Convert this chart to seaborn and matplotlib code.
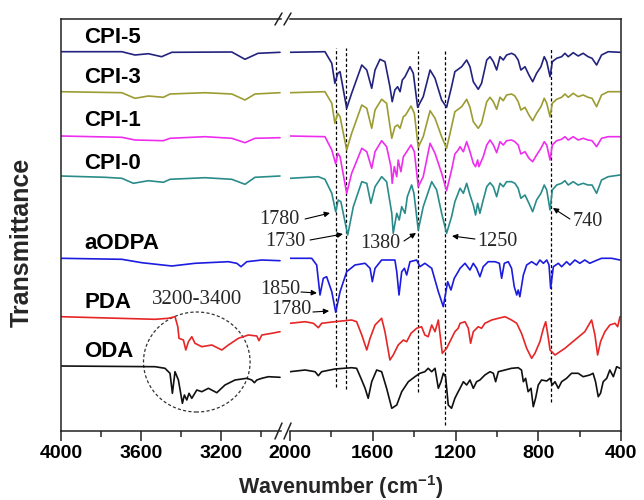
import matplotlib
matplotlib.use("Agg")
import matplotlib.pyplot as plt
import seaborn as sns
import pandas as pd
from matplotlib.patches import Ellipse
from matplotlib.lines import Line2D

# ---------------- data (wavenumber in cm-1, transmittance in a.u., stacked) ----------------
CPI5_HI_WN = [4000, 3696, 3630, 3563, 3497, 3446, 3146, 3080, 3015, 2905]
CPI5_HI_T = [379.3, 379.3, 376, 377.3, 374.3, 378.7, 379, 371.7, 377.7, 378.7]
CPI5_LO_WN = [2000, 1831, 1798, 1783, 1769, 1758, 1726, 1702, 1653, 1629, 1605, 1589, 1565, 1541, 1517, 1506,
              1493, 1480, 1468, 1457, 1444, 1420, 1404, 1383, 1356, 1323, 1299, 1267, 1243, 1219, 1203, 1170,
              1146, 1130, 1114, 1090, 1074, 1049, 1033, 1017, 1001, 985, 969, 953, 929, 913, 897, 884, 864,
              845, 827, 808, 787, 771, 759, 743, 732, 711, 687, 671, 655, 631, 607, 583, 559, 540, 518, 494,
              462, 405]
CPI5_LO_T = [378.7, 379.3, 367.7, 347.7, 357.7, 359.3, 322.7, 337.7, 366, 361, 342.7, 361, 371.7, 369.3, 344.3,
             329.3, 341, 344.3, 339.3, 351, 354.3, 364.3, 357.7, 323.7, 334.3, 361, 352.7, 331, 323.7, 344.3,
             359.3, 364.3, 371, 364.3, 349.3, 341.7, 347.7, 371, 374.3, 369.3, 361, 374.3, 371, 376, 377.7,
             376, 371, 361, 364.3, 356, 349.3, 357.7, 364.3, 374.3, 369.3, 354.3, 369.3, 372.7, 374.3, 377.7,
             374.3, 378.3, 375, 377.7, 374.3, 372.7, 366, 376, 379.3, 378.7]

CPI3_HI_WN = [4000, 3696, 3630, 3563, 3488, 3455, 3280, 3146, 3080, 3030, 2905]
CPI3_HI_T = [339.3, 338.3, 332.7, 335, 333.7, 337, 338.3, 337, 331, 337, 338.3]
CPI3_LO_WN = [2000, 1831, 1798, 1783, 1769, 1758, 1726, 1702, 1653, 1629, 1605, 1589, 1557, 1533, 1508, 1493,
              1480, 1468, 1452, 1441, 1415, 1399, 1380, 1356, 1323, 1299, 1267, 1243, 1219, 1203, 1170, 1146,
              1130, 1114, 1090, 1074, 1049, 1033, 1017, 1001, 985, 969, 953, 929, 913, 897, 884, 864, 845, 827,
              808, 787, 771, 759, 743, 732, 711, 687, 671, 655, 631, 607, 583, 559, 540, 518, 494, 462, 405]
CPI3_LO_T = [338.3, 339.3, 327.7, 307.7, 317.7, 314.3, 281, 297.7, 326, 322.7, 302.7, 321, 331.7, 327.7, 292.7,
             304.3, 306, 302.7, 314.3, 316, 325, 317.7, 283.7, 294.3, 320.3, 312.7, 294.3, 282.7, 304.3, 319.3,
             324.3, 331.7, 323.7, 309.3, 302.7, 307.7, 329.3, 333.7, 329.3, 321.7, 333.7, 330.3, 336, 337, 335,
             329.3, 321, 323.7, 316, 310.3, 317.7, 324.3, 332.7, 327.7, 314.3, 327.7, 331.7, 333.7, 337, 333.7,
             337.7, 334.3, 336, 333.7, 332.7, 324.3, 336, 339.3, 339.3]

CPI1_HI_WN = [4000, 3696, 3630, 3488, 3455, 3280, 3146, 3080, 3030, 2905]
CPI1_HI_T = [295, 293.7, 291, 290.3, 292.7, 294.3, 292.7, 288.3, 292.7, 293.3]
CPI1_LO_WN = [2000, 1831, 1798, 1779, 1769, 1758, 1726, 1702, 1653, 1629, 1605, 1589, 1557, 1533, 1512, 1506,
              1496, 1484, 1477, 1464, 1452, 1441, 1415, 1399, 1380, 1356, 1323, 1299, 1267, 1243, 1219, 1203,
              1187, 1178, 1162, 1146, 1130, 1114, 1103, 1093, 1087, 1066, 1049, 1033, 1017, 1001, 985, 969, 953,
              929, 913, 897, 884, 864, 845, 827, 808, 787, 771, 759, 743, 732, 711, 687, 671, 655, 631, 607, 583,
              559, 540, 518, 494, 462, 405]
CPI1_LO_T = [295, 294.3, 281, 267, 277.7, 274.3, 237.7, 257.7, 282.7, 279.3, 262.7, 279.3, 290.3, 284.3, 264.3,
             247.7, 264.3, 254.3, 271, 259.3, 274.3, 277.7, 286, 279.3, 244.3, 254.3, 287.7, 277.7, 257.7, 240.3,
             261, 277, 281, 284.3, 279.3, 289.3, 279.3, 267.7, 264.3, 271, 264.3, 274.3, 286, 291, 286, 278.3,
             289.3, 286, 290.3, 291, 289.3, 286, 277, 279.3, 272.7, 269.3, 276, 282.7, 289.3, 286, 271, 286,
             290.3, 291.7, 294.3, 291, 294.3, 291, 292.7, 291, 290.3, 284.3, 292.7, 294.3, 294.3]

CPI0_HI_WN = [4000, 3780, 3696, 3638, 3563, 3488, 3455, 3280, 3146, 3080, 3030, 2905]
CPI0_HI_T = [255, 253.7, 252.7, 247.7, 250.3, 248.7, 251.7, 253.3, 251.7, 246.7, 253.7, 255]
CPI0_LO_WN = [2000, 1863, 1831, 1798, 1779, 1767, 1754, 1721, 1694, 1653, 1629, 1609, 1589, 1557, 1533, 1508,
              1501, 1484, 1472, 1460, 1444, 1433, 1412, 1401, 1380, 1356, 1315, 1291, 1267, 1243, 1219, 1203,
              1178, 1162, 1146, 1130, 1114, 1103, 1093, 1082, 1066, 1049, 1033, 1017, 1001, 985, 969, 953, 929,
              913, 897, 884, 864, 845, 827, 808, 787, 771, 759, 743, 732, 711, 687, 671, 655, 631, 607, 583, 559,
              540, 518, 494, 462, 405]
CPI0_LO_T = [252.7, 254.3, 251.7, 237.7, 219.3, 231, 229.3, 196, 224.3, 249.3, 247.7, 227.7, 244.3, 254.3, 249.3,
             217.7, 197.7, 217.7, 211, 224.3, 217.7, 234.3, 246, 237.7, 201, 224.3, 249.3, 241, 217.7, 197.7,
             214.3, 229.3, 242.7, 237.7, 247.7, 236, 226, 216, 227.7, 217.7, 231, 244.3, 248.3, 244.3, 234.3,
             247.7, 244.3, 249.3, 249.3, 247.7, 242.7, 232.7, 236, 227.7, 219.3, 231, 237.7, 246, 241, 221, 241,
             246, 247.7, 250.3, 246, 249.3, 246, 247.7, 246, 246, 237.7, 251, 254.3, 256]

AODPA_HI_WN = [4000, 3696, 3596, 3446, 3330, 3163, 3121, 3100, 3071, 2996, 2905]
AODPA_HI_T = [172.7, 171.7, 168.3, 165, 167.7, 169.3, 167.7, 164.3, 169.3, 171, 170.3]
AODPA_LO_WN = [2000, 1895, 1871, 1855, 1839, 1823, 1798, 1779, 1758, 1726, 1686, 1637, 1613, 1602, 1589, 1557,
               1493, 1484, 1473, 1460, 1447, 1436, 1420, 1388, 1372, 1348, 1315, 1283, 1259, 1238, 1222, 1206,
               1187, 1178, 1154, 1130, 1114, 1098, 1082, 1066, 1042, 1009, 988, 977, 964, 945, 929, 916, 904,
               897, 889, 872, 856, 832, 808, 792, 775, 759, 748, 740, 727, 703, 687, 663, 647, 623, 599, 575,
               551, 526, 494, 445, 405]
AODPA_LO_T = [172.7, 172.7, 166, 136, 152.7, 154.3, 139.3, 118.7, 139.3, 159.3, 166, 167.7, 162.7, 149.3, 162.7,
              171, 171, 159.3, 136, 159.3, 162.7, 156, 169.3, 171, 164.3, 167.7, 162.7, 139.3, 124.3, 149.3, 141,
              152.7, 159.3, 162.7, 167.7, 161, 167.7, 162.7, 154.3, 164.3, 169.3, 169.3, 167.7, 152.7, 167.7,
              169.3, 162.7, 144.3, 136, 141, 134.3, 156, 166, 169.3, 166, 171, 167.7, 171, 166, 142.7, 164.3,
              167.7, 164.3, 169.3, 166, 171, 167.7, 171, 167.7, 170, 172.7, 172.7, 171]

PDA_HI_WN = [4000, 3530, 3463, 3430, 3416, 3410, 3388, 3376, 3363, 3346, 3330, 3296, 3246, 3196, 3163, 3113,
             3063, 3021, 3010, 2996, 2946, 2905]
PDA_HI_T = [114.3, 111.7, 112.7, 114.3, 104.3, 92.7, 91, 81, 89.3, 94.3, 87.7, 84.3, 86, 81, 86, 92.7, 96, 95,
            90.3, 96, 97.7, 99.3]
PDA_LO_WN = [2000, 1927, 1887, 1863, 1847, 1783, 1702, 1678, 1653, 1629, 1613, 1589, 1557, 1541, 1517, 1501,
             1477, 1452, 1436, 1415, 1388, 1364, 1348, 1332, 1315, 1299, 1283, 1264, 1243, 1219, 1203, 1187,
             1178, 1154, 1138, 1127, 1114, 1090, 1074, 1058, 1025, 993, 961, 929, 904, 881, 856, 832, 816, 792,
             775, 764, 751, 743, 719, 671, 623, 575, 542, 526, 513, 499, 478, 454, 429, 416, 405]
PDA_LO_T = [107.7, 109.3, 107.7, 103.3, 107.7, 109.3, 111, 109.3, 96, 81, 92.7, 106, 112.7, 99.3, 71, 76, 86, 91,
            89.3, 97.7, 102.7, 104.3, 96, 94.3, 106, 99.3, 111, 77.7, 82.7, 92.7, 99.3, 102.7, 107.7, 109.3,
            102.7, 87.7, 99.3, 104.3, 102.7, 107.7, 111, 112.7, 114.3, 111, 107.7, 97.7, 82.7, 72.7, 77.7,
            89.3, 102.7, 109.3, 92.7, 81, 76, 82.7, 91, 99.3, 111, 96, 76, 89.3, 99.3, 106, 107.7, 104.3, 114.3]

ODA_HI_WN = [4000, 3530, 3480, 3455, 3443, 3430, 3413, 3393, 3383, 3371, 3360, 3346, 3321, 3296, 3263, 3221,
             3180, 3130, 3071, 3046, 3033, 3021, 2996, 2963, 2905]
ODA_HI_T = [65, 64.3, 62.7, 57.7, 37.7, 59.3, 51, 27.7, 36, 31, 37.7, 32.7, 41, 39.3, 42.7, 38.3, 46, 51, 52.7,
            51, 48.3, 51, 52.7, 54.3, 53.7]
ODA_LO_WN = [2000, 1927, 1879, 1863, 1847, 1783, 1702, 1678, 1657, 1637, 1622, 1605, 1581, 1557, 1533, 1508,
             1484, 1460, 1428, 1396, 1372, 1348, 1332, 1315, 1299, 1283, 1270, 1259, 1248, 1235, 1219, 1203,
             1187, 1178, 1162, 1146, 1130, 1114, 1098, 1082, 1058, 1033, 1017, 1006, 993, 961, 929, 897, 881,
             872, 861, 849, 835, 824, 813, 800, 784, 759, 743, 732, 719, 703, 687, 663, 639, 607, 583, 551, 535,
             523, 510, 499, 486, 469, 454, 437, 421, 405]
ODA_LO_T = [59.3, 61, 59.3, 55.3, 59.3, 62, 63.3, 62.7, 52.7, 42.7, 32.7, 49.3, 61, 59.3, 42.7, 22.7, 26, 39.3,
            49.3, 54.3, 57.7, 59.3, 62.7, 59.3, 62.7, 42.7, 49.3, 57.7, 54.3, 26, 22.7, 32.7, 39.3, 42.7, 49.3,
            46, 51, 42.7, 49.3, 51, 56, 59.3, 57.7, 49.3, 59.3, 61, 62.7, 63.3, 61, 49.3, 52.7, 39.3, 42.7, 24.3,
            32.7, 46, 51, 50, 52.7, 46, 49.3, 42.7, 49.3, 52.7, 57.7, 57.7, 54.3, 56, 57.7, 49.3, 34.3, 37.7,
            49.3, 52.7, 61, 54.3, 64.3, 62.7]

SAMPLES = ["CPI-5", "CPI-3", "CPI-1", "CPI-0", "aODPA", "PDA", "ODA"]
COLORS = ["#23237f", "#9c9c33", "#ee2eee", "#2a8c8a", "#1c1ce0", "#e62626", "#111111"]
LABEL_T = [394, 354, 311, 268, 187.5, 128, 79.5]
MARKED_WN = [1780, 1730, 1380, 1250, 740]
MARKED_TOP = [383, 383, 380, 380, 383]
MARKED_BOTTOM = [44.3, 42, 39.3, 6, 29.3]

HI = {"CPI-5": (CPI5_HI_WN, CPI5_HI_T), "CPI-3": (CPI3_HI_WN, CPI3_HI_T), "CPI-1": (CPI1_HI_WN, CPI1_HI_T),
      "CPI-0": (CPI0_HI_WN, CPI0_HI_T), "aODPA": (AODPA_HI_WN, AODPA_HI_T), "PDA": (PDA_HI_WN, PDA_HI_T),
      "ODA": (ODA_HI_WN, ODA_HI_T)}
LO = {"CPI-5": (CPI5_LO_WN, CPI5_LO_T), "CPI-3": (CPI3_LO_WN, CPI3_LO_T), "CPI-1": (CPI1_LO_WN, CPI1_LO_T),
      "CPI-0": (CPI0_LO_WN, CPI0_LO_T), "aODPA": (AODPA_LO_WN, AODPA_LO_T), "PDA": (PDA_LO_WN, PDA_LO_T),
      "ODA": (ODA_LO_WN, ODA_LO_T)}

rows = []
for s in SAMPLES:
    for region, src in (("hi", HI), ("lo", LO)):
        for w, t in zip(*src[s]):
            rows.append({"sample": s, "region": region, "wn": w, "T": t})
df = pd.DataFrame(rows)

# ---------------- style ----------------
sns.set_style("ticks")
plt.rcParams['font.family'] = ['Liberation Sans', 'DejaVu Sans']
plt.rcParams['mathtext.fontset'] = 'custom'
plt.rcParams['mathtext.rm'] = 'Liberation Sans'
plt.rcParams['mathtext.bf'] = 'Liberation Sans:bold'

W, H = 644, 500
fig = plt.figure(figsize=(W / 100, H / 100), dpi=100)
fig.patch.set_facecolor("white")

def fx(px):
    return px / W

def fy(py):
    return 1 - py / H

ax1 = fig.add_axes([fx(61), fy(431), fx(281) - fx(61), fy(19) - fy(431)])
ax2 = fig.add_axes([fx(290), fy(431), fx(621) - fx(290), fy(19) - fy(431)])

for s, c in zip(SAMPLES, COLORS):
    sns.lineplot(data=df[(df["sample"] == s) & (df["region"] == "hi")], x="wn", y="T", ax=ax1,
                 color=c, lw=1.2, estimator=None, legend=False)
    sns.lineplot(data=df[(df["sample"] == s) & (df["region"] == "lo")], x="wn", y="T", ax=ax2,
                 color=c, lw=1.2, estimator=None, legend=False)

ax1.set_xlim(4000, 2900)
ax2.set_xlim(2000, 400)
for ax in (ax1, ax2):
    ax.set_ylim(0, 412)
    ax.set_yticks([])
    ax.set_xlabel("")
    ax.set_ylabel("")
    for sp in ax.spines.values():
        sp.set_linewidth(1.1)
        sp.set_color("#222222")
    ax.tick_params(axis="x", which="major", direction="out", length=7, width=1.1, pad=3,
                   labelsize=14, colors="#222222")
    ax.tick_params(axis="x", which="minor", direction="out", length=4, width=1.1)
    ax.set_facecolor("white")
ax1.spines["right"].set_visible(False)
ax2.spines["left"].set_visible(False)

ax1.set_xticks([4000, 3600, 3200])
ax1.set_xticks([3800, 3400, 3000], minor=True)
ax2.set_xticks([2000, 1600, 1200, 800, 400])
ax2.set_xticks([1800, 1400, 1000, 600], minor=True)
for ax in (ax1, ax2):
    for lab in ax.get_xticklabels():
        lab.set_fontweight("bold")
        lab.set_color("black")

# marker dashed lines
for w, t0, t1 in zip(MARKED_WN, MARKED_BOTTOM, MARKED_TOP):
    ax2.plot([w, w], [t0, t1], color="black", lw=0.9, ls=(0, (2.5, 1.8)), zorder=1)

# sample labels
for s, t in zip(SAMPLES, LABEL_T):
    ax1.text(0.105, t, s, transform=ax1.get_yaxis_transform(), ha="left", va="center",
             fontsize=16, fontweight="bold", color="black")

# annotations
serif = ["Liberation Serif", "DejaVu Serif"]
arrow = dict(arrowstyle="-|>", color="black", lw=0.8, mutation_scale=8, shrinkA=0, shrinkB=0)
notes = [
    ("1780", (1807, 218), (1927, 212), "right", (1952, 211)),
    ("1730", (1744, 197), (1903, 191), "right", (1927, 190)),
    ("1380", (1391, 198), (1449, 190), "right", (1468, 188)),
    ("1250", (1217, 195), (1106, 192), "left", (1096, 190)),
    ("740", (729, 223), (647, 212), "left", (632, 209)),
    ("1850", (1870, 138), (1947, 139), "right", (1952, 141)),
    ("1780", (1811, 120), (1889, 119), "right", (1894, 121)),
]
for txt, tip, tail, ha, tpos in notes:
    ax2.annotate("", xy=tip, xytext=tail, arrowprops=arrow, annotation_clip=False)
    ax2.text(tpos[0], tpos[1], txt, ha=ha, va="center", family=serif, fontsize=14.5, clip_on=False)

ax1.text(3320, 131, "3200-3400", ha="center", va="center", family=serif, fontsize=15)
ell = Ellipse((3321, 69), width=533, height=100, fill=False, ls=(0, (2.5, 1.8)), lw=0.9,
              edgecolor="#333333", clip_on=False)
ax1.add_patch(ell)

# axis break marks
for (x0, y0, x1, y1) in [(275, 25, 282, 13), (284, 25, 291, 13), (275, 439, 282, 423), (284, 439, 291, 423)]:
    fig.add_artist(Line2D([fx(x0), fx(x1)], [fy(y0), fy(y1)], color="#222222", lw=1.1))

fig.text(fx(341), fy(494), r"Wavenumber (cm$^{\mathbf{-1}}$)", ha="center", va="baseline",
         fontsize=15.5, fontweight="bold")
fig.text(fx(22), fy(242), "Transmittance", ha="center", va="center", rotation=90,
         fontsize=18, fontweight="bold")

fig.savefig("out.png", dpi=100, facecolor="white")
